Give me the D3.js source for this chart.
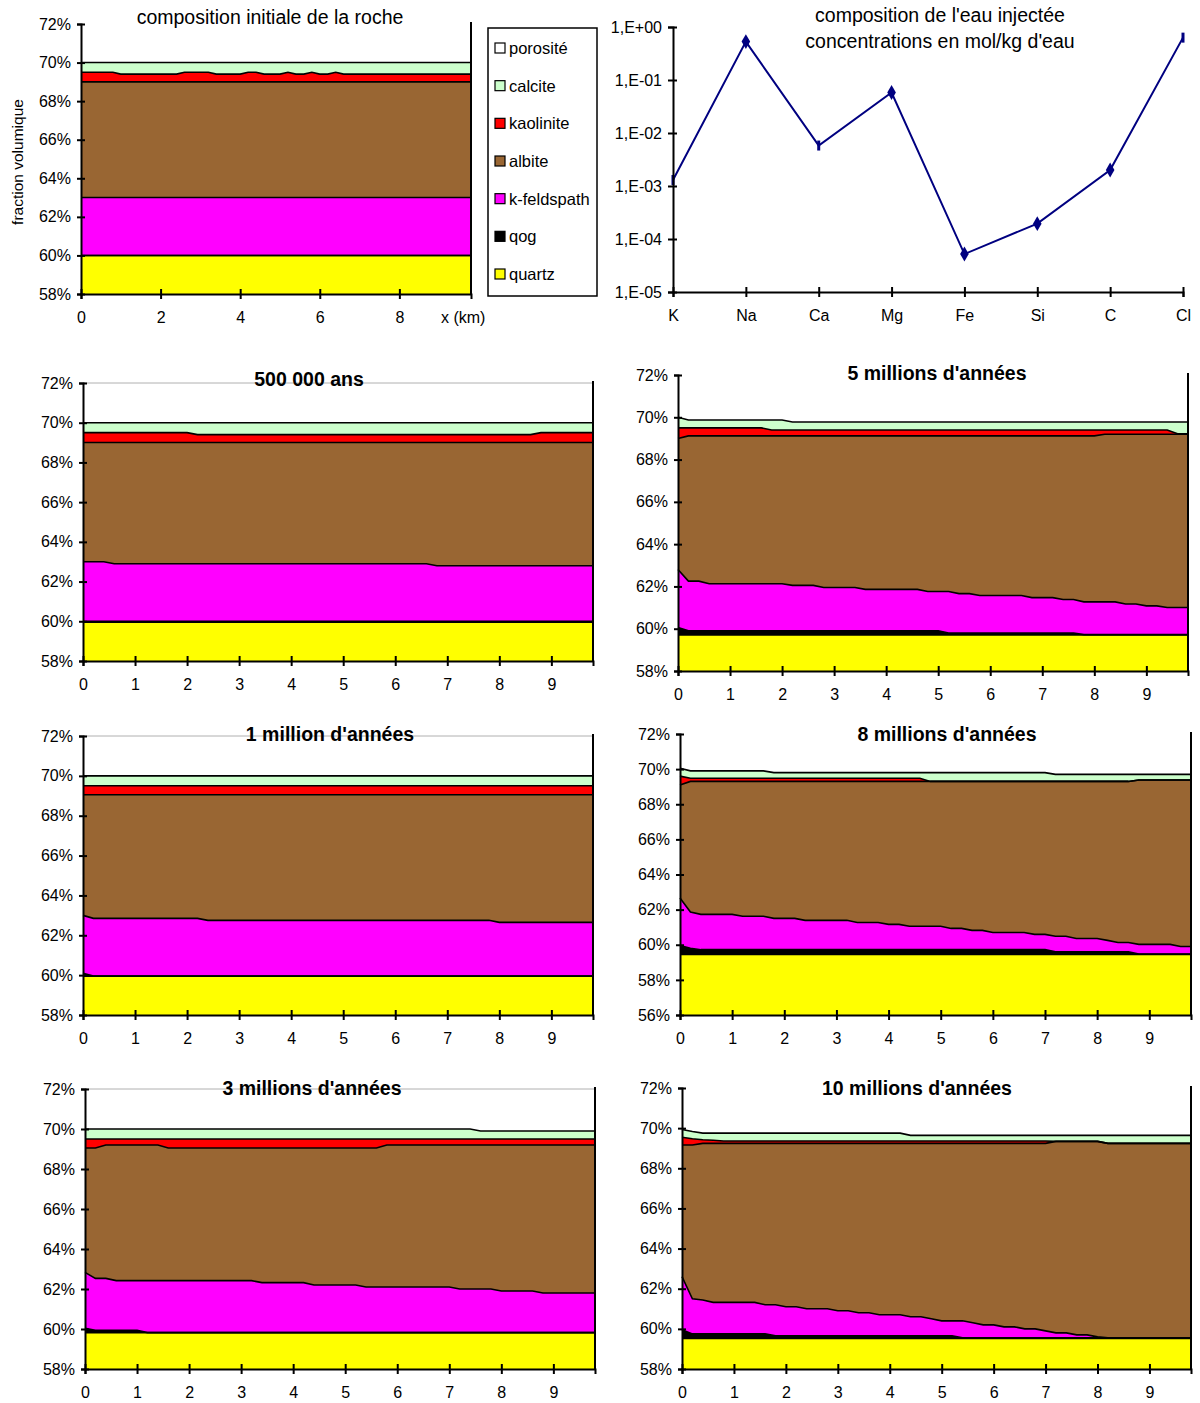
<!DOCTYPE html>
<html><head><meta charset="utf-8">
<script src="https://cdn.jsdelivr.net/npm/d3@7"></script>
<style>body{margin:0;background:#fff}text{font-family:"Liberation Sans",Arial,sans-serif}</style>
</head><body>
<script>
// ---------------- DATA ----------------
// Legend / minerals
const legendLabels = ["porosité","calcite","kaolinite","albite","k-feldspath","qog","quartz"];
const legendColors = ["#FFFFFF","#CCFFCC","#FF0000","#996633","#FF00FF","#000000","#FFFF00"];

// Injected water composition (mol/kg)
const elements = ["K","Na","Ca","Mg","Fe","Si","C","Cl"];
const concentrations = [1.3e-3, 0.53, 5.8e-3, 0.058, 5.2e-5, 1.95e-4, 2.0e-3, 0.63];
const logTickValues = [1, 1e-1, 1e-2, 1e-3, 1e-4, 1e-5];
const logTickLabels = ["1,E+00","1,E-01","1,E-02","1,E-03","1,E-04","1,E-05"];

// Stacked cumulative tops (% volume) vs x (km): [x, top]
// initial composition
const init_quartz  = [[0,60],[9.8,60]];
const init_qog     = [[0,60],[9.8,60]];
const init_kfeld   = [[0,63],[9.8,63]];
const init_albite  = [[0,69],[9.8,69]];
const init_kaol    = [[0,69.5],[0.8,69.5],[1.0,69.4],[2.4,69.4],[2.6,69.5],[3.2,69.5],[3.4,69.4],[4.0,69.4],[4.2,69.5],[4.4,69.5],[4.6,69.4],[5.0,69.4],[5.2,69.5],[5.4,69.4],[5.6,69.4],[5.8,69.5],[6.0,69.4],[6.2,69.4],[6.4,69.5],[6.6,69.4],[9.8,69.4]];
const init_calcite = [[0,70],[9.8,70]];

// 500 000 ans
const a_quartz  = [[0,59.95],[9.8,59.95]];
const a_qog     = [[0,60.0],[9.8,60.0]];
const a_kfeld   = [[0,63.0],[0.4,63.0],[0.6,62.9],[6.6,62.9],[6.8,62.8],[9.8,62.8]];
const a_albite  = [[0,69.0],[9.8,69.0]];
const a_kaol    = [[0,69.5],[2.0,69.5],[2.2,69.4],[8.6,69.4],[8.8,69.5],[9.8,69.5]];
const a_calcite = [[0,70],[9.8,70]];

// 1 million d'années
const b_quartz  = [[0,59.95],[9.8,59.95]];
const b_qog     = [[0,60.1],[0.2,59.95],[9.8,59.95]];
const b_kfeld   = [[0,63.0],[0.2,62.85],[2.2,62.85],[2.4,62.75],[7.8,62.75],[8.0,62.65],[9.8,62.65]];
const b_albite  = [[0,69.05],[9.8,69.05]];
const b_kaol    = [[0,69.5],[9.8,69.5]];
const b_calcite = [[0,70],[9.8,70]];

// 3 millions d'années
const c_quartz  = [[0,59.82],[9.8,59.82]];
const c_qog     = [[0,60.03],[0.2,59.93],[1.0,59.93],[1.2,59.82],[9.8,59.82]];
const c_kfeld   = [[0,62.83],[0.2,62.53],[0.4,62.53],[0.6,62.42],[3.2,62.42],[3.4,62.32],[4.2,62.32],[4.4,62.2],[5.2,62.2],[5.4,62.1],[7.0,62.1],[7.2,62.0],[7.8,62.0],[8.0,61.9],[8.6,61.9],[8.8,61.8],[9.8,61.8]];
const c_albite  = [[0,69.05],[0.2,69.05],[0.4,69.2],[1.4,69.2],[1.6,69.05],[5.6,69.05],[5.8,69.2],[9.8,69.2]];
const c_kaol    = [[0,69.5],[9.8,69.5]];
const c_calcite = [[0,70],[7.4,70],[7.6,69.9],[9.8,69.9]];

// 5 millions d'années
const d_quartz  = [[0,59.7],[9.8,59.7]];
const d_qog     = [[0,60.06],[0.2,59.9],[5.0,59.9],[5.2,59.8],[7.6,59.8],[7.8,59.72],[9.8,59.72]];
const d_kfeld   = [[0,62.8],[0.2,62.25],[0.4,62.25],[0.6,62.13],[2.0,62.13],[2.2,62.05],[2.6,62.05],[2.8,61.95],[3.4,61.95],[3.6,61.86],[4.6,61.86],[4.8,61.76],[5.2,61.76],[5.4,61.66],[5.6,61.66],[5.8,61.57],[6.6,61.57],[6.8,61.47],[7.2,61.47],[7.4,61.38],[7.6,61.38],[7.8,61.27],[8.4,61.27],[8.6,61.17],[8.8,61.17],[9.0,61.08],[9.2,61.08],[9.4,61.0],[9.8,61.0]];
const d_albite  = [[0,69.0],[0.2,69.12],[8.0,69.12],[8.2,69.2],[9.8,69.2]];
const d_kaol    = [[0,69.5],[1.6,69.5],[1.8,69.4],[9.4,69.4],[9.6,69.22],[9.8,69.22]];
const d_calcite = [[0,70.0],[0.2,69.87],[2.0,69.87],[2.2,69.78],[9.8,69.78]];

// 8 millions d'années
const e_quartz  = [[0,59.45],[9.8,59.45]];
const e_qog     = [[0,59.96],[0.2,59.8],[0.4,59.72],[7.0,59.72],[7.2,59.6],[8.6,59.6],[8.8,59.47],[9.8,59.47]];
const e_kfeld   = [[0,62.66],[0.2,61.86],[0.4,61.73],[1.0,61.73],[1.2,61.62],[1.6,61.62],[1.8,61.5],[2.2,61.5],[2.4,61.39],[3.2,61.39],[3.4,61.27],[3.8,61.27],[4.0,61.16],[4.2,61.16],[4.4,61.05],[5.0,61.05],[5.2,60.93],[5.4,60.93],[5.6,60.82],[5.8,60.82],[6.0,60.7],[6.6,60.7],[6.8,60.59],[7.0,60.59],[7.2,60.48],[7.4,60.48],[7.6,60.36],[8.0,60.36],[8.2,60.25],[8.4,60.13],[8.6,60.13],[8.8,60.02],[9.4,60.02],[9.6,59.9],[9.8,59.9]];
const e_albite  = [[0,69.1],[0.2,69.3],[8.6,69.3],[8.8,69.38],[9.8,69.38]];
const e_kaol    = [[0,69.6],[0.2,69.48],[4.6,69.48],[4.8,69.3],[8.6,69.3],[8.8,69.38],[9.8,69.38]];
const e_calcite = [[0,70.05],[0.2,69.9],[1.6,69.9],[1.8,69.8],[7.0,69.8],[7.2,69.7],[9.8,69.7]];

// 10 millions d'années
const f_quartz  = [[0,59.52],[9.8,59.52]];
const f_qog     = [[0,59.95],[0.2,59.75],[1.6,59.75],[1.8,59.65],[5.2,59.65],[5.4,59.55],[9.8,59.55]];
const f_kfeld   = [[0,62.6],[0.2,61.5],[0.4,61.44],[0.6,61.32],[1.4,61.32],[1.6,61.2],[1.8,61.2],[2.0,61.1],[2.2,61.1],[2.4,61.0],[2.8,61.0],[3.0,60.9],[3.2,60.9],[3.4,60.8],[3.6,60.8],[3.8,60.7],[4.2,60.7],[4.4,60.6],[4.6,60.6],[4.8,60.5],[5.0,60.4],[5.4,60.4],[5.6,60.3],[5.8,60.2],[6.0,60.2],[6.2,60.1],[6.4,60.1],[6.6,60.0],[6.8,60.0],[7.0,59.9],[7.2,59.8],[7.4,59.8],[7.6,59.7],[7.8,59.7],[8.0,59.6],[8.2,59.55],[9.8,59.55]];
const f_albite  = [[0,69.16],[0.2,69.16],[0.4,69.24],[7.0,69.24],[7.2,69.34],[8.0,69.34],[8.2,69.24],[9.8,69.24]];
const f_kaol    = [[0,69.55],[0.2,69.47],[0.4,69.42],[0.6,69.4],[0.8,69.36],[7.0,69.36],[7.2,69.34],[8.0,69.34],[8.2,69.24],[9.8,69.24]];
const f_calcite = [[0,69.93],[0.2,69.83],[0.4,69.75],[4.2,69.75],[4.4,69.64],[9.8,69.64]];

// ---------------- DRAWING ----------------
const svg = d3.select("body").append("svg").attr("width",1200).attr("height",1403);
const FONT = 16;
const FF = "Liberation Sans, Arial, sans-serif";

function crossAxisLeft(g, scale, x, tickVals, fmt) {
  g.append("g").attr("transform",`translate(${x},0)`)
    .call(d3.axisLeft(scale).tickValues(tickVals).tickSize(4).tickPadding(6).tickFormat(fmt))
    .call(s=>{s.select(".domain").attr("stroke-width",2);s.selectAll(".tick line").attr("stroke-width",2);
      s.selectAll("text").attr("font-size",FONT).attr("fill","#000").attr("font-family",FF);});
  g.append("g").attr("transform",`translate(${x},0)`)
    .call(d3.axisRight(scale).tickValues(tickVals).tickSize(4).tickFormat(""))
    .call(s=>{s.select(".domain").remove();s.selectAll(".tick line").attr("stroke-width",2);});
}
function crossAxisBottom(g, scale, y, tickVals, fmt) {
  g.append("g").attr("transform",`translate(0,${y})`)
    .call(d3.axisBottom(scale).tickValues(tickVals).tickSize(5).tickPadding(13).tickFormat(fmt))
    .call(s=>{s.select(".domain").attr("stroke-width",2);s.selectAll(".tick line").attr("stroke-width",2);
      s.selectAll("text").attr("font-size",FONT).attr("fill","#000").attr("font-family",FF);});
  g.append("g").attr("transform",`translate(0,${y})`)
    .call(d3.axisTop(scale).tickValues(tickVals).tickSize(5).tickFormat(""))
    .call(s=>{s.select(".domain").remove();s.selectAll(".tick line").attr("stroke-width",2);});
}

function stackPanel(p, layers) {
  const g = svg.append("g");
  const x = d3.scaleLinear().domain([0,9.8]).range([p.left,p.right]);
  const y = d3.scaleLinear().domain([p.ymin,72]).range([p.bottom,p.top]);
  const order = [
    [layers.calcite, legendColors[1]],
    [layers.kaol, legendColors[2]],
    [layers.albite, legendColors[3]],
    [layers.kfeld, legendColors[4]],
    [layers.qog, legendColors[5]],
    [layers.quartz, legendColors[6]]
  ];
  const area = d3.area().x(d=>x(d[0])).y0(y(p.ymin)).y1(d=>y(d[1]));
  const line = d3.line().x(d=>x(d[0])).y(d=>y(d[1]));
  order.forEach(([data,col])=>g.append("path").datum(data).attr("d",area).attr("fill",col));
  order.forEach(([data])=>g.append("path").datum(data).attr("d",line).attr("fill","none").attr("stroke","#000").attr("stroke-width",1.6));
  if (p.topBorder) g.append("line").attr("x1",p.left).attr("x2",p.right).attr("y1",p.top).attr("y2",p.top).attr("stroke","#b0b0b0").attr("stroke-width",1);
  g.append("line").attr("x1",p.right).attr("x2",p.right).attr("y1",p.top-2).attr("y2",p.bottom).attr("stroke","#000").attr("stroke-width",2);
  crossAxisLeft(g, y, p.left, d3.range(p.ymin,72.001,2), d=>d+"%");
  crossAxisBottom(g, x, p.bottom, p.xticks, d3.format("d"));
  if (p.title) g.append("text").attr("x",p.tx).attr("y",p.ty).attr("text-anchor","middle")
     .attr("font-size",p.bold?19.5:19.5).attr("font-weight",p.bold?"bold":"normal").text(p.title);
  return {x,y,g};
}

// Panel 0: initial composition
stackPanel({left:81,right:471,top:24,bottom:294,ymin:58,xticks:[0,2,4,6,8],title:"composition initiale de la roche",tx:270,ty:24,bold:false,topBorder:false},
  {calcite:init_calcite,kaol:init_kaol,albite:init_albite,kfeld:init_kfeld,qog:init_qog,quartz:init_quartz});
svg.append("text").attr("x",441).attr("y",323).attr("font-size",FONT).text("x (km)");
svg.append("text").attr("transform","translate(23,162) rotate(-90)").attr("text-anchor","middle").attr("font-size",15.5).text("fraction volumique");

// Legend
const lg = svg.append("g");
lg.append("rect").attr("x",488).attr("y",28).attr("width",109).attr("height",268).attr("fill","#fff").attr("stroke","#000").attr("stroke-width",1.5);
const legendY = d3.scalePoint().domain(legendLabels).range([48,274]);
legendLabels.forEach((lab,i)=>{
  lg.append("rect").attr("x",495).attr("y",legendY(lab)-5).attr("width",10).attr("height",10)
    .attr("fill",legendColors[i]).attr("stroke","#000").attr("stroke-width",1.2);
  lg.append("text").attr("x",509).attr("y",legendY(lab)+6).attr("font-size",16.5).text(lab);
});

// Log chart: injected water
(function(){
  const g = svg.append("g");
  const x = d3.scalePoint().domain(elements).range([673,1183]);
  const y = d3.scaleLog().domain([1e-5,1]).range([292,27]);
  const line = d3.line().x((d,i)=>x(elements[i])).y(d=>y(d));
  g.append("path").datum(concentrations).attr("d",line).attr("fill","none").attr("stroke","#000080").attr("stroke-width",2);
  const diamondIdx = [1,3,4,5,6];
  concentrations.forEach((v,i)=>{
    const cx = x(elements[i]), cy = y(v);
    if (diamondIdx.includes(i)) {
      g.append("path").attr("d",d3.symbol(d3.symbolDiamond,64)()).attr("transform",`translate(${cx},${cy})`).attr("fill","#000080");
    } else {
      g.append("line").attr("x1",cx).attr("x2",cx).attr("y1",cy-5).attr("y2",cy+5).attr("stroke","#000080").attr("stroke-width",3);
    }
  });
  g.append("g").attr("transform","translate(673,0)")
    .call(d3.axisLeft(y).tickValues(logTickValues).tickSize(5).tickPadding(6).tickFormat((d,i)=>logTickLabels[i]))
    .call(s=>{s.select(".domain").attr("stroke-width",2);s.selectAll(".tick line").attr("stroke-width",2);
      s.selectAll("text").attr("font-size",FONT).attr("fill","#000").attr("font-family",FF);});
  g.append("g").attr("transform","translate(673,0)")
    .call(d3.axisRight(y).tickValues(logTickValues).tickSize(4).tickFormat(""))
    .call(s=>{s.select(".domain").remove();s.selectAll(".tick line").attr("stroke-width",2);});
  crossAxisBottom(g, x, 292, elements, d=>d);
  g.append("text").attr("x",940).attr("y",22).attr("text-anchor","middle").attr("font-size",19.5).text("composition de l'eau injectée");
  g.append("text").attr("x",940).attr("y",48).attr("text-anchor","middle").attr("font-size",19.5).text("concentrations en mol/kg d'eau");
})();

const xt = d3.range(0,10,1);
stackPanel({left:83,right:593,top:383,bottom:661,ymin:58,xticks:xt,title:"500 000 ans",tx:309,ty:386,bold:true,topBorder:true},
  {calcite:a_calcite,kaol:a_kaol,albite:a_albite,kfeld:a_kfeld,qog:a_qog,quartz:a_quartz});
stackPanel({left:83,right:593,top:736,bottom:1015,ymin:58,xticks:xt,title:"1 million d'années",tx:330,ty:741,bold:true,topBorder:true},
  {calcite:b_calcite,kaol:b_kaol,albite:b_albite,kfeld:b_kfeld,qog:b_qog,quartz:b_quartz});
stackPanel({left:85,right:595,top:1089,bottom:1369,ymin:58,xticks:xt,title:"3 millions d'années",tx:312,ty:1095,bold:true,topBorder:true},
  {calcite:c_calcite,kaol:c_kaol,albite:c_albite,kfeld:c_kfeld,qog:c_qog,quartz:c_quartz});
stackPanel({left:678,right:1188,top:375,bottom:671,ymin:58,xticks:xt,title:"5 millions d'années",tx:937,ty:380,bold:true,topBorder:false},
  {calcite:d_calcite,kaol:d_kaol,albite:d_albite,kfeld:d_kfeld,qog:d_qog,quartz:d_quartz});
stackPanel({left:680,right:1191,top:734,bottom:1015,ymin:56,xticks:xt,title:"8 millions d'années",tx:947,ty:741,bold:true,topBorder:false},
  {calcite:e_calcite,kaol:e_kaol,albite:e_albite,kfeld:e_kfeld,qog:e_qog,quartz:e_quartz});
stackPanel({left:682,right:1191,top:1088,bottom:1369,ymin:58,xticks:xt,title:"10 millions d'années",tx:917,ty:1095,bold:true,topBorder:false},
  {calcite:f_calcite,kaol:f_kaol,albite:f_albite,kfeld:f_kfeld,qog:f_qog,quartz:f_quartz});
</script>
</body></html>
